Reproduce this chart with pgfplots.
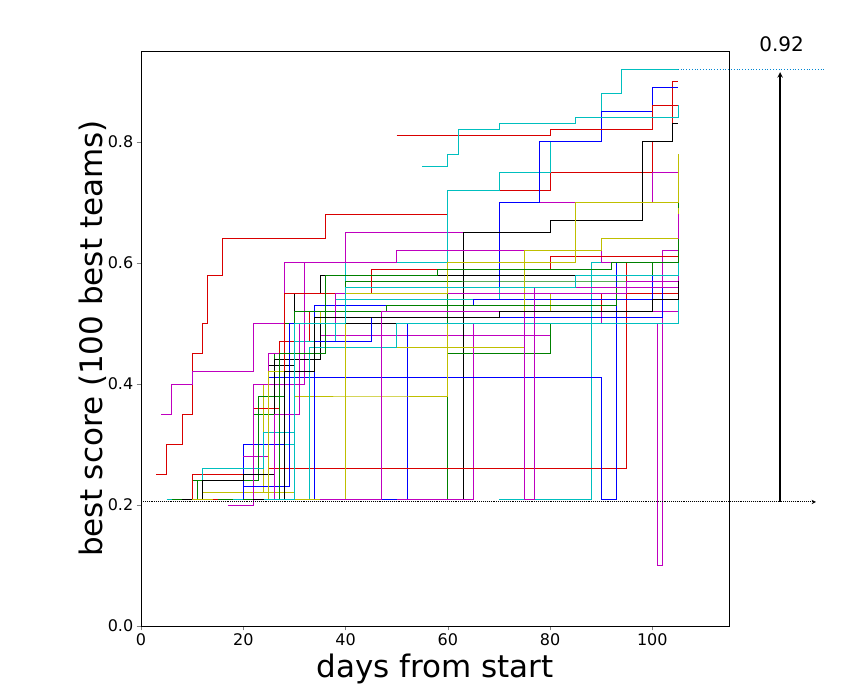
\documentclass[border=0pt]{standalone}
\usepackage{pgfplots}
\pgfplotsset{compat=1.18}
\usepackage{fontspec}
\setmainfont{DejaVu Sans}
\definecolor{qb}{rgb}{0,0,1}
\definecolor{qg}{rgb}{0,0.5,0}
\definecolor{qr}{rgb}{0.85,0,0}
\definecolor{qc}{rgb}{0,0.75,0.75}
\definecolor{qm}{rgb}{0.75,0,0.75}
\definecolor{qy}{rgb}{0.75,0.75,0}
\definecolor{qk}{rgb}{0,0,0}
\begin{document}
\begin{tikzpicture}
\path (-141pt,-70pt) rectangle (704pt,626pt);
\begin{axis}[
 scale only axis, width=588pt, height=575pt,
 xmin=0, xmax=115, ymin=0, ymax=0.95,
 xtick={0,20,40,60,80,100}, ytick={0,0.2,0.4,0.6,0.8},
 yticklabel style={/pgf/number format/.cd,fixed,fixed zerofill,precision=1},
 /pgf/number format/assume math mode=true,
 tick label style={font=\fontsize{16}{16}\selectfont},
 xlabel={days from start}, ylabel={best score (100 best teams)},
 label style={font=\fontsize{31}{31}\selectfont},
 xlabel style={yshift=-1pt}, ylabel style={yshift=-6pt},
 tick align=outside, xtick pos=bottom, ytick pos=left,
 clip=false,
 every axis plot/.append style={const plot, line width=0.7pt, mark=none},
]
\addplot[qr] coordinates {(3,0.25)(5,0.3)(8,0.35)(10,0.45)(12,0.5)(13,0.58)(16,0.64)(30,0.64)(36,0.68)(60,0.72)(80,0.75)(100,0.8)(104,0.9)(105,0.9)};
\addplot[qm] coordinates {(4,0.35)(6,0.4)(10,0.42)(20,0.42)(22,0.5)(28,0.6)(40,0.65)(70,0.7)(100,0.75)(105,0.75)};
\addplot[qc] coordinates {(5,0.21)(25,0.3)(30,0.55)(40,0.6)(60,0.72)(70,0.75)(80,0.8)(90,0.88)(94,0.92)(105,0.92)};
\addplot[qb] coordinates {(8,0.21)(20,0.3)(28,0.45)(32,0.5)(40,0.5)(60,0.55)(70,0.7)(78,0.8)(90,0.85)(100,0.89)(105,0.89)};
\addplot[qg] coordinates {(10,0.24)(22,0.35)(26,0.45)(30,0.5)(60,0.55)(100,0.6)(105,0.62)};
\addplot[qy] coordinates {(12,0.22)(24,0.4)(30,0.5)(35,0.52)(80,0.55)(105,0.6)};
\addplot[qk] coordinates {(15,0.25)(25,0.43)(30,0.55)(35,0.58)(60,0.58)(95,0.6)(105,0.65)};
\addplot[qr] coordinates {(50,0.81)(80,0.82)(100,0.86)(105,0.86)};
\addplot[qc] coordinates {(55,0.76)(60,0.78)(62,0.82)(70,0.83)(85,0.84)(105,0.86)};
\addplot[qm] coordinates {(20,0.28)(25,0.45)(35,0.48)(80,0.5)(101,0.1)(102,0.62)(105,0.64)};
\addplot[qb] coordinates {(40,0.21)(52,0.5)(75,0.52)(105,0.58)};
\addplot[qk] coordinates {(55,0.21)(63,0.65)(80,0.67)(98,0.8)(104,0.83)(105,0.83)};
\addplot[qg] coordinates {(50,0.21)(60,0.45)(80,0.5)(105,0.6)};
\addplot[qc] coordinates {(70,0.21)(88,0.6)(105,0.63)};
\addplot[qm] coordinates {(50,0.21)(65,0.5)(90,0.52)(105,0.62)};
\addplot[qr] coordinates {(25,0.26)(95,0.6)(105,0.7)};
\addplot[qb] coordinates {(25,0.41)(90,0.21)(93,0.6)(105,0.66)};
\addplot[qy] coordinates {(20,0.22)(30,0.38)(45,0.38)(60,0.5)(105,0.57)};
\addplot[qr] coordinates {(7,0.21)(10,0.25)(22,0.36)(27,0.47)(33,0.52)(55,0.52)(90,0.55)(105,0.74)};
\addplot[qg] coordinates {(6,0.21)(11,0.24)(23,0.38)(28,0.5)(40,0.57)(85,0.57)(105,0.73)};
\addplot[qc] coordinates {(9,0.21)(12,0.26)(24,0.32)(30,0.47)(38,0.54)(70,0.56)(105,0.65)};
\addplot[qm] coordinates {(17,0.2)(22,0.4)(32,0.6)(50,0.62)(90,0.6)(105,0.66)};
\addplot[qk] coordinates {(8,0.21)(12,0.24)(20,0.25)(26,0.44)(35,0.5)(80,0.5)(105,0.55)};
\addplot[qb] coordinates {(12,0.21)(20,0.23)(29,0.5)(34,0.53)(65,0.54)(100,0.58)(105,0.6)};
\addplot[qy] coordinates {(10,0.21)(25,0.42)(33,0.46)(75,0.62)(90,0.64)(105,0.69)};
\addplot[qr] coordinates {(14,0.21)(28,0.55)(45,0.59)(80,0.61)(105,0.63)};
\addplot[qg] coordinates {(15,0.21)(30,0.52)(48,0.53)(93,0.56)(105,0.67)};
\addplot[qc] coordinates {(18,0.21)(32,0.21)(33,0.46)(50,0.5)(105,0.58)};
\addplot[qm] coordinates {(20,0.21)(26,0.35)(31,0.5)(38,0.55)(95,0.57)(105,0.61)};
\addplot[qb] coordinates {(30,0.21)(34,0.47)(45,0.51)(102,0.56)(105,0.59)};
\addplot[qy] coordinates {(25,0.21)(40,0.55)(60,0.6)(85,0.7)(105,0.78)};
\addplot[qm] coordinates {(35,0.21)(47,0.52)(75,0.21)(77,0.56)(105,0.68)};
\addplot[qg] coordinates {(20,0.21)(27,0.45)(36,0.58)(58,0.59)(92,0.6)(105,0.64)};
\addplot[qk] coordinates {(22,0.21)(28,0.42)(34,0.51)(70,0.52)(100,0.54)(105,0.57)};
\addplot[qc] coordinates {(24,0.21)(30,0.5)(40,0.56)(85,0.58)(105,0.6)};
% annotations
\draw[densely dotted, line width=0.9pt, -stealth] (axis cs:0,0.205) -- (axis cs:132,0.205);
\draw[dotted, qc!70!blue, line width=0.8pt] (axis cs:105,0.92) -- (axis cs:134,0.92);
\draw[-stealth, line width=1.4pt] (axis cs:125,0.205) -- (axis cs:125,0.915);
\node[font=\fontsize{20}{20}\selectfont] at (axis cs:125.3,0.962) {0.92};
\end{axis}
\end{tikzpicture}
\end{document}
